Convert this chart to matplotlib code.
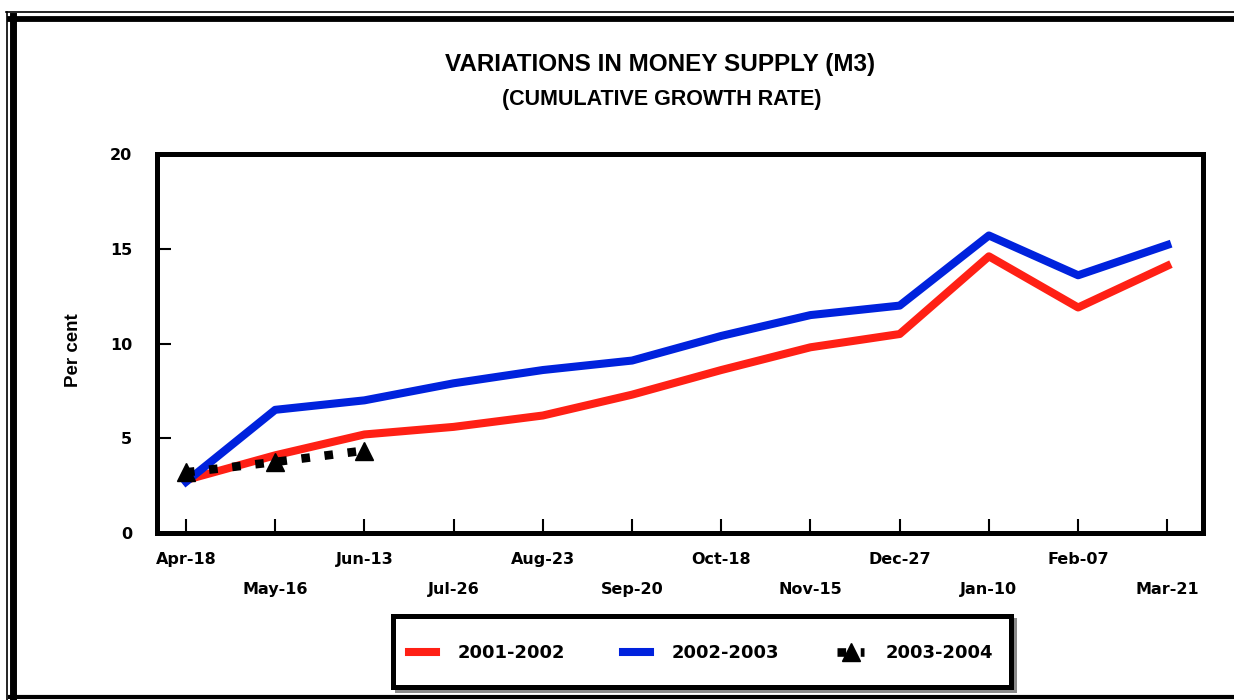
import matplotlib.pyplot as plt
from matplotlib.lines import Line2D
from matplotlib.patches import Rectangle

# data (per cent, cumulative)
months = ["Apr-18", "May-16", "Jun-13", "Jul-26", "Aug-23", "Sep-20",
          "Oct-18", "Nov-15", "Dec-27", "Jan-10", "Feb-07", "Mar-21"]
growth_0102 = [2.8, 4.1, 5.2, 5.6, 6.2, 7.3, 8.6, 9.8, 10.5, 14.6, 11.9, 14.1]
growth_0203 = [2.7, 6.5, 7.0, 7.9, 8.6, 9.1, 10.4, 11.5, 12.0, 15.7, 13.6, 15.2]
growth_0304 = [3.2, 3.75, 4.35]
series_names = ["2001-2002", "2002-2003", "2003-2004"]

RED = "#ff2015"
BLUE = "#0022dd"

plt.rcParams['font.family'] = ['DejaVu Sans']
plt.rcParams['font.weight'] = 'bold'

W, H = 1234, 700
fig = plt.figure(figsize=(W / 100, H / 100), dpi=100)

def fx(x):
    return x / W

def fy(y):
    return 1 - y / H

# outer double frame
fig.add_artist(Line2D([fx(6), 1], [fy(12), fy(12)], color='black', lw=1.2, transform=fig.transFigure))
fig.add_artist(Line2D([fx(6.5), fx(6.5)], [fy(12), 0], color='black', lw=1.2, transform=fig.transFigure))
fig.add_artist(Line2D([fx(9.5), 1], [fy(18.5), fy(18.5)], color='black', lw=4.2, transform=fig.transFigure))
fig.add_artist(Line2D([fx(13), fx(13)], [fy(16), 0], color='black', lw=5.0, transform=fig.transFigure))
fig.add_artist(Line2D([fx(9.5), 1], [fy(697), fy(697)], color='black', lw=3.0, transform=fig.transFigure))

ax = fig.add_axes([fx(157), fy(533), (1203 - 157) / W, (533 - 154) / H])
xs = range(len(months))
lw = 5.8
ax.plot(xs, growth_0102, color=RED, lw=lw, label=series_names[0])
ax.plot(xs, growth_0203, color=BLUE, lw=lw, label=series_names[1])
ax.plot(range(len(growth_0304)), growth_0304, color='black', lw=6.2,
        linestyle=(0, (1, 1.7)), dash_capstyle='butt',
        marker='^', markersize=13, label=series_names[2])

ax.set_xlim(-0.325, 11.4)
ax.set_ylim(0, 20)
ax.set_yticks([0, 5, 10, 15, 20])

ax.set_xticks(list(xs)[0::2], months[0::2])
ax.set_xticks(list(xs)[1::2], months[1::2], minor=True)
ax.tick_params(axis='x', which='both', direction='in', length=10, width=1.5,
               labelsize=11.5, colors='black')
ax.tick_params(axis='x', which='major', pad=14)
ax.tick_params(axis='x', which='minor', pad=35)
ax.tick_params(axis='y', direction='in', length=10, width=1.5, labelsize=11.5, pad=18)

for sp in ax.spines.values():
    sp.set_linewidth(3.6)
    sp.set_color('black')

# titles
fig.text(fx(660), fy(65), "VARIATIONS IN MONEY SUPPLY (M3)", ha='center', va='center',
         fontsize=17.5, fontweight='bold', family='Liberation Sans')
fig.text(fx(662), fy(100), "(CUMULATIVE GROWTH RATE)", ha='center', va='center',
         fontsize=15.5, fontweight='bold', family='Liberation Sans')
fig.text(fx(73), fy(350), "Per cent", ha='center', va='center', rotation=90,
         fontsize=13.5, fontweight='bold', family='Liberation Sans')

# legend box with shadow
fig.add_artist(Rectangle((fx(395), fy(693)), (1017 - 395) / W, (693 - 618) / H,
                         transform=fig.transFigure, facecolor='#8a8a8a', edgecolor='none'))
fig.add_artist(Rectangle((fx(392.5), fy(686.5)), (1010.5 - 392.5) / W, (686.5 - 615.5) / H,
                         transform=fig.transFigure, facecolor='white', edgecolor='black', lw=3.6))

handles, labels = ax.get_legend_handles_labels()
fig.legend(handles, labels, loc='center left', bbox_to_anchor=(fx(400), fy(653)),
           frameon=False, ncol=3, handlelength=1.5, handletextpad=1.2,
           columnspacing=3.2, borderpad=0, numpoints=1,
           prop={'size': 13, 'weight': 'bold', 'family': 'DejaVu Sans'})

fig.savefig('out.png', dpi=100)
